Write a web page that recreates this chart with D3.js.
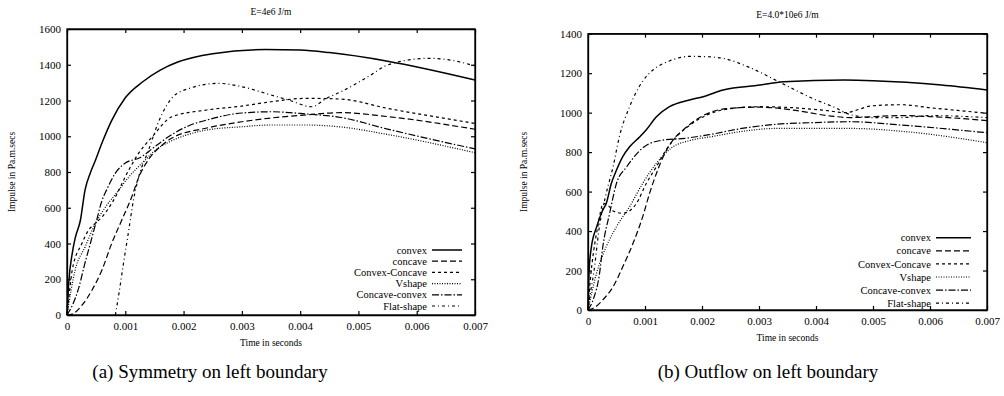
<!DOCTYPE html>
<html>
<head>
<meta charset="utf-8">
<script src="https://cdn.jsdelivr.net/npm/d3@7"></script>
<style>
  body { margin: 0; background: #fff; }
  svg text { font-family: "Liberation Serif", "DejaVu Serif", serif !important; fill: #000; }
</style>
</head>
<body>
<div id="chart"></div>
<script>
// curve names, in legend order
var seriesNames = ["convex", "concave", "Convex-Concave", "Vshape", "Concave-convex", "Flat-shape"];

var xTicks = [0, 0.001, 0.002, 0.003, 0.004, 0.005, 0.006, 0.007];
var xTickLabels = ["0", "0.001", "0.002", "0.003", "0.004", "0.005", "0.006", "0.007"];

// (a) symmetry on left boundary, [time, impulse]
var convexA = [[0,0],[0.00003,180],[0.00009,345],[0.00014,430],[0.00023,530],[0.00031,700],[0.0004,795],[0.00049,867],[0.0006,962],[0.00077,1090],[0.001,1215],[0.0013,1305],[0.0016,1370],[0.0019,1415],[0.0025,1462],[0.0034,1485],[0.004,1482],[0.0045,1468],[0.0055,1420],[0.007,1315]];
var concaveA = [[0,0],[0.00009,5],[0.00026,56],[0.00043,140],[0.0006,252],[0.00077,403],[0.00094,531],[0.00111,660],[0.00123,770],[0.0014,870],[0.00163,950],[0.0018,990],[0.0024,1046],[0.003,1081],[0.0035,1102],[0.0041,1119],[0.0047,1132],[0.0055,1110],[0.007,1039]];
var convexConcaveA = [[0,0],[0.00005,150],[0.00009,252],[0.00026,403],[0.00037,475],[0.00049,514],[0.0006,548],[0.00077,626],[0.00106,811],[0.00123,906],[0.00146,996],[0.0018,1109],[0.0024,1147],[0.003,1169],[0.0035,1193],[0.0041,1212],[0.0047,1208],[0.0055,1156],[0.007,1072]];
var vshapeA = [[0,0],[0.00014,252],[0.00031,381],[0.00049,514],[0.00066,604],[0.00089,699],[0.00106,772],[0.00129,850],[0.00155,930],[0.0018,975],[0.0024,1035],[0.003,1053],[0.0035,1063],[0.0041,1063],[0.0047,1052],[0.0055,1010],[0.007,908]];
var concaveConvexA = [[0,0],[0.0001,60],[0.0002,150],[0.0003,280],[0.0004,400],[0.0005,520],[0.0006,640],[0.00068,700],[0.00083,794],[0.001,850],[0.00125,880],[0.0015,940],[0.0018,1010],[0.0021,1060],[0.0024,1091],[0.003,1130],[0.0035,1137],[0.0041,1125],[0.0047,1105],[0.0055,1040],[0.007,929]];
var flatShapeA = [[0.00083,0],[0.00089,118],[0.00097,291],[0.00106,475],[0.00114,643],[0.00123,772],[0.0014,923],[0.00157,1080],[0.00182,1221],[0.0021,1268],[0.0026,1296],[0.003,1277],[0.0035,1231],[0.0038,1203],[0.0042,1165],[0.00445,1212],[0.0047,1249],[0.0052,1340],[0.0055,1399],[0.0062,1436],[0.0066,1425],[0.007,1393]];

// (b) outflow on left boundary
var convexB = [[0,0],[0.00002,200],[0.00006,320],[0.00015,420],[0.00026,507],[0.00032,540],[0.00041,642],[0.0005,709],[0.00061,777],[0.00073,827],[0.00091,878],[0.00102,912],[0.0012,979],[0.00143,1030],[0.00178,1064],[0.00202,1081],[0.00237,1115],[0.00302,1140],[0.00343,1157],[0.0045,1165],[0.005,1162],[0.0062,1140],[0.007,1115]];
var concaveB = [[0,0],[0.0001,10],[0.00026,51],[0.00044,118],[0.00061,219],[0.00079,338],[0.00096,473],[0.00108,591],[0.0012,692],[0.00132,777],[0.00149,861],[0.00167,912],[0.00202,985],[0.00243,1020],[0.003,1028],[0.0036,1013],[0.0042,985],[0.0046,975],[0.0055,985],[0.006,980],[0.007,960]];
var convexConcaveB = [[0,0],[0.00004,150],[0.0001,300],[0.00017,420],[0.00027,540],[0.00035,530],[0.00045,500],[0.00061,490],[0.00085,540],[0.00102,640],[0.0012,726],[0.00137,811],[0.00155,878],[0.00178,935],[0.0021,990],[0.0025,1020],[0.003,1030],[0.0036,1025],[0.0042,1010],[0.0045,1000],[0.005,1035],[0.0055,1040],[0.006,1025],[0.007,997]];
var vshapeB = [[0,0],[0.00015,186],[0.00032,321],[0.0005,422],[0.00073,524],[0.00096,642],[0.0012,743],[0.00149,827],[0.00178,858],[0.0022,880],[0.0027,905],[0.0033,920],[0.0046,920],[0.0056,903],[0.007,848]];
var concaveConvexB = [[0,0],[0.0001,60],[0.0002,180],[0.00026,321],[0.00038,490],[0.0005,642],[0.00068,726],[0.00085,790],[0.001,830],[0.0013,860],[0.0017,870],[0.0021,887],[0.0027,920],[0.0033,941],[0.0039,949],[0.0046,954],[0.0055,937],[0.007,898]];
var flatShapeB = [[0,0],[0.00005,100],[0.0001,187],[0.0002,422],[0.00032,591],[0.00044,726],[0.00055,878],[0.00073,1030],[0.00096,1160],[0.00114,1216],[0.00143,1262],[0.00178,1285],[0.00202,1284],[0.00237,1275],[0.0028,1233],[0.0034,1149],[0.004,1064],[0.0043,1030],[0.0046,990],[0.005,975],[0.0055,975],[0.006,985],[0.007,975]];

var yTicksA = [0, 200, 400, 600, 800, 1000, 1200, 1400, 1600];
var yTicksB = [0, 200, 400, 600, 800, 1000, 1200, 1400];

// gnuplot style dashes, one per series
var dashes = [null, "6,3", "3,3", "1,1.5", "7,2,1.5,2", "3,3,1,3"];

var serif = "'Liberation Serif', 'DejaVu Serif', serif";

var svg = d3.select("#chart")
    .append("svg")
      .attr("width", 1004)
      .attr("height", 396);

svg.append("rect").attr("width", 1004).attr("height", 396).attr("fill", "#fff");

function drawPanel(opt) {
    var g = svg.append("g")
        .attr("transform", "translate(" + opt.left + "," + opt.top + ")");

    var x = d3.scaleLinear().domain([0, 0.007]).range([0, opt.width]);
    var y = d3.scaleLinear().domain([0, opt.ymax]).range([opt.height, 0]);

    // ticks point inward on all four sides
    g.append("g")
        .attr("transform", "translate(0," + opt.height + ")")
        .call(d3.axisBottom(x).tickValues(xTicks)
            .tickFormat(function(d, i) { return xTickLabels[i]; })
            .tickSizeInner(-4).tickSizeOuter(0).tickPadding(7))
        .attr("font-family", serif)
        .call(function(a) { a.selectAll("text").style("font-size", "11px"); });
    g.append("g")
        .call(d3.axisTop(x).tickValues(xTicks).tickFormat("").tickSizeInner(-4).tickSizeOuter(0));
    g.append("g")
        .call(d3.axisLeft(y).tickValues(opt.yTicks).tickFormat(d3.format("d"))
            .tickSizeInner(-4).tickSizeOuter(0).tickPadding(6))
        .attr("font-family", serif)
        .call(function(a) { a.selectAll("text").style("font-size", "11px"); });
    g.append("g")
        .attr("transform", "translate(" + opt.width + ",0)")
        .call(d3.axisRight(y).tickValues(opt.yTicks).tickFormat("").tickSizeInner(-4).tickSizeOuter(0));

    g.selectAll(".domain").attr("stroke", "#000").attr("stroke-width", 1.3);
    g.selectAll(".tick line").attr("stroke", "#000").attr("stroke-width", 1.2);

    g.append("rect")
        .attr("width", opt.width).attr("height", opt.height)
        .attr("fill", "none").attr("stroke", "#000").attr("stroke-width", 1.3);

    var line = d3.line()
        .x(function(d) { return x(d[0]); })
        .y(function(d) { return y(d[1]); })
        .curve(d3.curveMonotoneX);

    g.selectAll(".curve")
        .data(opt.series).enter().append("path")
          .attr("class", "curve")
          .attr("d", line)
          .attr("fill", "none")
          .attr("stroke", "#000")
          .attr("stroke-width", function(d, i) { return i == 0 ? 1.5 : 1.2; })
          .attr("stroke-dasharray", function(d, i) { return dashes[i]; });

    // legend, bottom right
    var leg = g.selectAll(".legend")
        .data(seriesNames).enter().append("g")
          .attr("class", "legend")
          .attr("transform", function(d, i) { return "translate(0," + (opt.legTop + i * opt.legStep) + ")"; });
    leg.append("text")
        .attr("x", opt.legX)
        .attr("dy", "0.35em")
        .attr("text-anchor", "end")
        .attr("font-family", serif)
        .style("font-size", "10.5px")
        .text(function(d) { return d; });
    leg.append("line")
        .attr("x1", opt.legX + 5).attr("x2", opt.legX + opt.legLen)
        .attr("stroke", "#000")
        .attr("stroke-width", function(d, i) { return i == 0 ? 1.5 : 1.2; })
        .attr("stroke-dasharray", function(d, i) { return dashes[i]; });

    // titles
    g.append("text")
        .attr("x", opt.width / 2).attr("y", opt.titleY)
        .attr("text-anchor", "middle")
        .attr("font-family", serif)
        .style("font-size", "9.5px")
        .text(opt.title);
    g.append("text")
        .attr("x", opt.width / 2).attr("y", opt.height + 31)
        .attr("text-anchor", "middle")
        .attr("font-family", serif)
        .style("font-size", "9.5px")
        .text("Time in seconds");
    g.append("text")
        .attr("transform", "translate(" + opt.ylabX + "," + (opt.height / 2) + ") rotate(-90)")
        .attr("text-anchor", "middle")
        .attr("font-family", serif)
        .style("font-size", "9.5px")
        .text("Impulse in Pa.m.secs");

    svg.append("text")
        .attr("x", opt.capX).attr("y", 378)
        .attr("text-anchor", "middle")
        .attr("font-family", serif)
        .style("font-size", "19px")
        .text(opt.caption);
}

drawPanel({
    left: 67, top: 29, width: 408, height: 286, ymax: 1600, yTicks: yTicksA,
    series: [convexA, concaveA, convexConcaveA, vshapeA, concaveConvexA, flatShapeA],
    title: "E=4e6 J/m", titleY: -14, ylabX: -52,
    legX: 360, legTop: 221, legStep: 11.2, legLen: 35,
    caption: "(a) Symmetry on left boundary", capX: 210
});

drawPanel({
    left: 588, top: 33.7, width: 399, height: 276.3, ymax: 1400, yTicks: yTicksB,
    series: [convexB, concaveB, convexConcaveB, vshapeB, concaveConvexB, flatShapeB],
    title: "E=4.0*10e6 J/m", titleY: -16, ylabX: -61,
    legX: 343, legTop: 204, legStep: 13.1, legLen: 40,
    caption: "(b) Outflow on left boundary", capX: 768
});
</script>
</body>
</html>
